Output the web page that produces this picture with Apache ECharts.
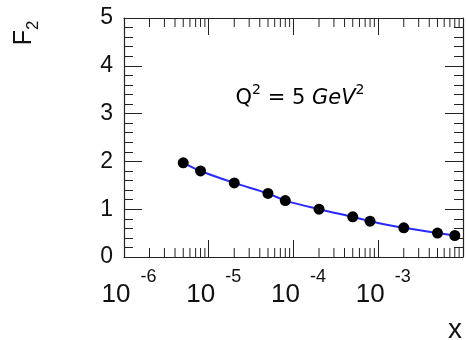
<!DOCTYPE html>
<html>
<head>
<meta charset="utf-8">
<script src="https://cdn.jsdelivr.net/npm/echarts@6/dist/echarts.min.js"></script>
<style>
  html, body { margin: 0; padding: 0; background: #fff; }
  #chart { width: 466px; height: 340px; }
</style>
</head>
<body>
<div id="chart"></div>
<script>
// F2 data at Q^2 = 5 GeV^2
const xVals = [5e-6, 8e-6, 2e-5, 5e-5, 8e-5, 2e-4, 5e-4, 8e-4, 2e-3, 5e-3, 8e-3]
const f2Vals = [1.97, 1.80, 1.55, 1.33, 1.18, 1.00, 0.84, 0.75, 0.61, 0.50, 0.45]
const decades = [-6, -5, -4, -3]
const yTicks = [0, 1, 2, 3, 4, 5]

const xMin = 1e-6
const xMax = 1e-2
const yMin = 0
const yMax = 5

// minor ticks of the log axis: 2..9 x 10^n
const minorTicks = []
decades.forEach(function (d) {
  for (let m = 2; m <= 9; m++) minorTicks.push([m * Math.pow(10, d), 0])
})

const axisColor = '#222'
const font = 'Liberation Sans, Arial, sans-serif'

const chart = echarts.init(document.getElementById('chart'))

chart.setOption({
  animation: false,
  grid: { left: 124, right: 3, top: 18, bottom: 83, containLabel: false, outerBoundsMode: 'none' },
  xAxis: [
    {
      type: 'log',
      logBase: 10,
      min: xMin,
      max: xMax,
      position: 'bottom',
      axisLine: { onZero: false, lineStyle: { color: axisColor, width: 1.2 } },
      axisTick: { inside: true, length: 17, lineStyle: { color: axisColor } },
      splitLine: { show: false },
      axisLabel: {
        margin: 11,
        formatter: function (v) {
          const e = Math.round(Math.log10(v))
          if (decades.indexOf(e) < 0) return ''
          return '{b|10}{s|' + e + '}'
        },
        rich: {
          b: { fontFamily: font, fontSize: 26, color: '#111', lineHeight: 40, verticalAlign: 'bottom', padding: [0, 0, 0, 10] },
          s: { fontFamily: font, fontSize: 18, color: '#111', lineHeight: 40, verticalAlign: 'top', padding: [0, 0, 0, 10] }
        }
      }
    },
    {
      type: 'log',
      logBase: 10,
      min: xMin,
      max: xMax,
      position: 'top',
      axisLine: { onZero: false, lineStyle: { color: axisColor, width: 1.2 } },
      axisTick: { inside: true, length: 17, lineStyle: { color: axisColor } },
      axisLabel: { show: false },
      splitLine: { show: false }
    }
  ],
  yAxis: [
    {
      type: 'value',
      min: yMin,
      max: yMax,
      interval: 1,
      position: 'left',
      axisLine: { show: true, onZero: false, lineStyle: { color: axisColor, width: 1.2 } },
      axisTick: { show: true, inside: true, length: 18, lineStyle: { color: axisColor } },
      minorTick: { show: true, splitNumber: 5, length: 9, lineStyle: { color: axisColor } },
      splitLine: { show: false },
      axisLabel: {
        margin: 11,
        fontFamily: font,
        fontSize: 23,
        color: '#111',
        formatter: function (v) { return yTicks.indexOf(v) >= 0 ? String(v) : '' }
      }
    },
    {
      type: 'value',
      min: yMin,
      max: yMax,
      interval: 1,
      position: 'right',
      axisLine: { show: true, onZero: false, lineStyle: { color: axisColor, width: 1.2 } },
      axisTick: { show: true, inside: true, length: 18, lineStyle: { color: axisColor } },
      minorTick: { show: true, splitNumber: 5, length: 9, lineStyle: { color: axisColor } },
      splitLine: { show: false },
      axisLabel: { show: false }
    }
  ],
  series: [
    {
      type: 'custom',
      xAxisIndex: 0,
      yAxisIndex: 0,
      data: minorTicks,
      silent: true,
      renderItem: function (params, api) {
        const v = api.value(0)
        const b = api.coord([v, yMin])
        const t = api.coord([v, yMax])
        const st = { stroke: axisColor, lineWidth: 1 }
        return {
          type: 'group',
          children: [
            { type: 'line', shape: { x1: b[0], y1: b[1], x2: b[0], y2: b[1] - 9 }, style: st },
            { type: 'line', shape: { x1: t[0], y1: t[1], x2: t[0], y2: t[1] + 9 }, style: st }
          ]
        }
      }
    },
    {
      type: 'line',
      xAxisIndex: 0,
      yAxisIndex: 0,
      data: xVals.map(function (x, i) { return [x, f2Vals[i]] }),
      smooth: 0.3,
      symbol: 'circle',
      symbolSize: 11,
      lineStyle: { color: '#2a2aff', width: 2 },
      itemStyle: { color: '#000' }
    }
  ],
  graphic: [
    {
      type: 'text',
      x: 27,
      y: 33,
      rotation: Math.PI / 2,
      style: {
        text: '{a|F}{b|2}',
        align: 'center',
        verticalAlign: 'middle',
        rich: {
          a: { fontFamily: font, fontSize: 25, fill: '#111', lineHeight: 30, verticalAlign: 'top' },
          b: { fontFamily: font, fontSize: 17, fill: '#111', lineHeight: 30, verticalAlign: 'bottom' }
        }
      }
    },
    {
      type: 'text',
      x: 455,
      y: 330,
      style: {
        text: 'x',
        fontFamily: font,
        fontSize: 28,
        fill: '#111',
        align: 'center',
        verticalAlign: 'middle'
      }
    },
    {
      type: 'text',
      x: 300,
      y: 96,
      style: {
        text: '{n|Q}{s|2}{n| = 5 }{i|GeV}{s|2}',
        align: 'center',
        verticalAlign: 'middle',
        rich: {
          n: { fontFamily: 'DejaVu Sans', fontSize: 21, fill: '#000', lineHeight: 26, verticalAlign: 'bottom' },
          i: { fontFamily: 'DejaVu Sans', fontStyle: 'italic', fontSize: 21, fill: '#000', lineHeight: 26, verticalAlign: 'bottom' },
          s: { fontFamily: 'DejaVu Sans', fontSize: 14, fill: '#000', lineHeight: 26, verticalAlign: 'top' }
        }
      }
    }
  ]
})
</script>
</body>
</html>
